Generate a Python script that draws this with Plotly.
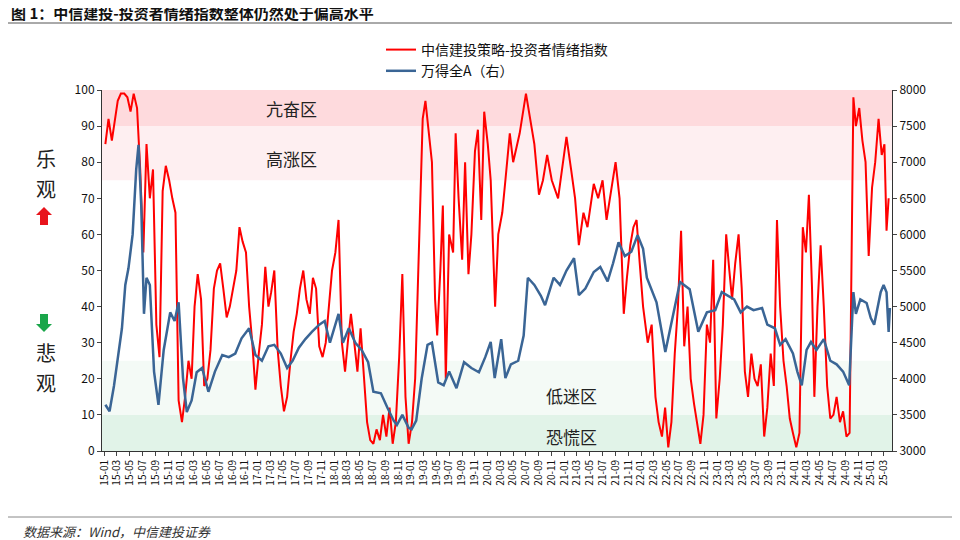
import plotly.graph_objects as go

# ---------- DATA ----------
red_dates = [
    "2015-01-05", "2015-01-20", "2015-02-05", "2015-02-20", "2015-03-05", "2015-03-20", "2015-04-05", "2015-04-20",
    "2015-05-05", "2015-05-20", "2015-06-05", "2015-06-20", "2015-07-05", "2015-07-20", "2015-08-05", "2015-08-20",
    "2015-09-05", "2015-09-20", "2015-10-05", "2015-10-20", "2015-11-05", "2015-11-20", "2015-12-05", "2015-12-20",
    "2016-01-05", "2016-01-20", "2016-02-05", "2016-02-20", "2016-03-05", "2016-03-20", "2016-04-05", "2016-04-20",
    "2016-05-05", "2016-05-20", "2016-06-05", "2016-06-20", "2016-07-05", "2016-07-20", "2016-08-05", "2016-08-20",
    "2016-09-05", "2016-09-20", "2016-10-05", "2016-10-20", "2016-11-05", "2016-11-20", "2016-12-05", "2016-12-20",
    "2017-01-05", "2017-01-20", "2017-02-05", "2017-02-20", "2017-03-05", "2017-03-20", "2017-04-05", "2017-04-20",
    "2017-05-05", "2017-05-20", "2017-06-05", "2017-06-20", "2017-07-05", "2017-07-20", "2017-08-05", "2017-08-20",
    "2017-09-05", "2017-09-20", "2017-10-05", "2017-10-20", "2017-11-05", "2017-11-20", "2017-12-05", "2017-12-20",
    "2018-01-05", "2018-01-20", "2018-02-05", "2018-02-20", "2018-03-05", "2018-03-20", "2018-04-05", "2018-04-20",
    "2018-05-05", "2018-05-20", "2018-06-05", "2018-06-20", "2018-07-05", "2018-07-20", "2018-08-05", "2018-08-20",
    "2018-09-05", "2018-09-20", "2018-10-05", "2018-10-20", "2018-11-05", "2018-11-20", "2018-12-05", "2018-12-20",
    "2019-01-05", "2019-01-20", "2019-02-10", "2019-02-25", "2019-03-10", "2019-03-25", "2019-04-10", "2019-04-25",
    "2019-05-05", "2019-05-20", "2019-06-01", "2019-06-15", "2019-07-01", "2019-07-20", "2019-08-01", "2019-08-15",
    "2019-09-01", "2019-09-15", "2019-10-01", "2019-10-15", "2019-11-01", "2019-11-15", "2019-12-01", "2019-12-15",
    "2020-01-01", "2020-01-15", "2020-02-05", "2020-02-20", "2020-03-10", "2020-03-25", "2020-04-15", "2020-05-01",
    "2020-06-01", "2020-07-01", "2020-07-20", "2020-08-10", "2020-09-01", "2020-09-20", "2020-10-10", "2020-11-01",
    "2020-12-01", "2020-12-20",
    "2021-01-10", "2021-02-01", "2021-02-20", "2021-03-10", "2021-04-01", "2021-04-20", "2021-05-20", "2021-06-10",
    "2021-07-01", "2021-07-20", "2021-08-10", "2021-09-01", "2021-09-20", "2021-10-10", "2021-10-25", "2021-11-10",
    "2021-11-25", "2021-12-10", "2021-12-25",
    "2022-01-10", "2022-02-01", "2022-02-20", "2022-03-10", "2022-03-25", "2022-04-10", "2022-04-25", "2022-05-10",
    "2022-05-25", "2022-06-10", "2022-06-25", "2022-07-10", "2022-07-25", "2022-08-10", "2022-08-25", "2022-09-10",
    "2022-09-25", "2022-10-10", "2022-10-25", "2022-11-10", "2022-11-25", "2022-12-10", "2022-12-25",
    "2023-01-10", "2023-01-25", "2023-02-10", "2023-02-25", "2023-03-10", "2023-03-25", "2023-04-10", "2023-04-25",
    "2023-05-10", "2023-05-25", "2023-06-10", "2023-06-25", "2023-07-10", "2023-07-25", "2023-08-10", "2023-08-25",
    "2023-09-10", "2023-09-25", "2023-10-10", "2023-10-25", "2023-11-10", "2023-11-25", "2023-12-10", "2023-12-25",
    "2024-01-10", "2024-01-25", "2024-02-10", "2024-02-25", "2024-03-10", "2024-03-25", "2024-04-05", "2024-04-20",
    "2024-05-05", "2024-05-20", "2024-06-05", "2024-06-20", "2024-07-05", "2024-07-20", "2024-08-05", "2024-08-20",
    "2024-09-05", "2024-09-20", "2024-09-28", "2024-10-08", "2024-10-20", "2024-11-05", "2024-11-20", "2024-12-05",
    "2024-12-20",
    "2025-01-05", "2025-01-20", "2025-02-05", "2025-02-20", "2025-03-05", "2025-03-15", "2025-03-25",
]
red_vals = [
    85, 92, 86, 92, 97, 99, 99, 98, 94, 99, 95, 78, 55, 85, 70, 78, 35, 26, 72, 79, 75, 70, 66, 14,
    8, 15, 25, 20, 40, 49, 42, 18, 20, 28, 45, 50, 52, 45, 37, 40, 45, 50, 62, 58, 55, 40, 30, 17,
    27, 35, 51, 40, 44, 50, 28, 18, 11, 15, 25, 33, 38, 45, 50, 42, 38, 48, 45, 29, 26, 30, 40, 50,
    55, 64, 30, 22, 30, 38, 30, 22, 34, 20, 8, 3, 2, 6, 3, 10, 4, 12, 2, 8, 26, 49, 15, 2,
    8, 20, 60, 92, 97, 88, 80, 42, 32, 50, 68, 20, 60, 55, 88, 70, 53, 80, 49, 60, 83, 89, 64, 94,
    85, 75, 40, 60, 66, 75, 88, 80, 88, 99, 92, 85, 71, 75, 82, 75, 70, 78,
    87, 78, 70, 57, 66, 62, 74, 70, 75, 64, 72, 80, 70, 38, 48, 57, 62, 64, 52,
    40, 30, 35, 15, 8, 4, 12, 1, 8, 27, 40, 61, 29, 40, 20, 13, 8, 2, 10, 35, 30, 53, 9,
    20, 35, 60, 50, 42, 52, 60, 45, 22, 15, 27, 20, 18, 24, 4, 12, 27, 18, 64, 40, 25, 18, 9, 5,
    1, 5, 62, 55, 71, 45, 15, 40, 57, 40, 18, 9, 10, 15, 8, 11, 4, 5, 40, 98, 90, 95, 86, 80, 54,
    73, 80, 92, 82, 85, 61, 70,
]

blue_dates = [
    "2015-01-05", "2015-01-25", "2015-02-15", "2015-03-10", "2015-03-25", "2015-04-10", "2015-04-25", "2015-05-15",
    "2015-06-01", "2015-06-12", "2015-06-25", "2015-07-08", "2015-07-20", "2015-08-05", "2015-08-25", "2015-09-15",
    "2015-10-10", "2015-11-10", "2015-12-01", "2015-12-20",
    "2016-01-10", "2016-01-28", "2016-02-20", "2016-03-15", "2016-04-10", "2016-05-10", "2016-06-10", "2016-07-15",
    "2016-08-15", "2016-09-15", "2016-10-15", "2016-11-20", "2016-12-20",
    "2017-01-20", "2017-02-20", "2017-03-20", "2017-04-20", "2017-05-20", "2017-06-15", "2017-07-15", "2017-08-15",
    "2017-09-15", "2017-10-20", "2017-11-15", "2017-12-10",
    "2018-01-20", "2018-02-10", "2018-03-10", "2018-04-10", "2018-05-10", "2018-06-10", "2018-07-05", "2018-08-10",
    "2018-09-10", "2018-10-10", "2018-10-25", "2018-11-20", "2018-12-20",
    "2019-01-03", "2019-01-25", "2019-02-20", "2019-03-20", "2019-04-10", "2019-05-10", "2019-06-05", "2019-07-01",
    "2019-08-05", "2019-09-10", "2019-10-15", "2019-11-20", "2019-12-20",
    "2020-01-15", "2020-02-03", "2020-03-05", "2020-03-25", "2020-04-20", "2020-05-25", "2020-06-20", "2020-07-10",
    "2020-08-10", "2020-09-10", "2020-09-30", "2020-11-10", "2020-12-10",
    "2021-01-10", "2021-02-15", "2021-03-10", "2021-04-10", "2021-05-20", "2021-06-20", "2021-07-25", "2021-08-20",
    "2021-09-15", "2021-10-15", "2021-11-15", "2021-12-15",
    "2022-01-10", "2022-01-28", "2022-03-15", "2022-04-26", "2022-05-20", "2022-07-05", "2022-08-20", "2022-09-30",
    "2022-11-10", "2022-12-20",
    "2023-01-20", "2023-02-20", "2023-03-20", "2023-04-20", "2023-05-20", "2023-06-20", "2023-07-31", "2023-08-25",
    "2023-09-30", "2023-10-25", "2023-11-20", "2023-12-25",
    "2024-01-15", "2024-02-05", "2024-02-28", "2024-03-20", "2024-04-15", "2024-05-20", "2024-06-20", "2024-07-20",
    "2024-08-20", "2024-09-18", "2024-09-30", "2024-10-08", "2024-10-20", "2024-11-10", "2024-12-10", "2024-12-30",
    "2025-01-15", "2025-02-15", "2025-03-01", "2025-03-15", "2025-03-25", "2025-03-31",
]
blue_vals = [
    3640, 3550, 3900, 4370, 4700, 5300, 5530, 6000, 6900, 7240, 6400, 4900, 5400, 5300, 4100, 3640,
    4400, 4920, 4800, 5060,
    4010, 3540, 3700, 4090, 4150, 3820, 4100, 4330, 4300, 4350, 4560, 4700, 4330,
    4250, 4450, 4470, 4350, 4150, 4250, 4430, 4550, 4650, 4750, 4800, 4500,
    4900, 4500, 4700, 4500, 4400, 4230, 3820, 3800, 3600, 3420, 3360, 3500, 3320,
    3300, 3420, 4000, 4470, 4500, 3950, 3910, 4100, 3870, 4230, 4150, 4090, 4300,
    4510, 4010, 4550, 4010, 4200, 4250, 4600, 5400, 5300, 5150, 5020, 5400, 5300,
    5500, 5670, 5160, 5250, 5480, 5550, 5350, 5600, 5890, 5700, 5760, 5990,
    5800, 5400, 5060, 4370, 4700, 5340, 5240, 4650, 4920, 4950,
    5200, 5150, 5100, 4920, 5000, 4950, 4980, 4750, 4700, 4470, 4550, 4350,
    4100, 3910, 4400, 4510, 4400, 4550, 4250, 4200, 4100, 3910, 4700, 5200, 4900, 5100, 5050, 4840,
    4750, 5200, 5300, 5200, 4650, 4980,
]

zones = [(90, 100, "rgba(253,205,210,0.75)"), (75, 90, "rgba(254,228,231,0.6)"),
         (10, 25, "rgba(236,246,240,0.6)"), (0, 10, "rgba(218,240,226,0.8)")]
zone_labels = [("亢奋区", 95), ("高涨区", 81), ("低迷区", 15.5), ("恐慌区", 4)]

FONT = "Noto Sans CJK SC"
RED = "#ff0000"
BLUE = "#3a6595"
L, R, T, B = 94, 76, 82, 97
OX, OY = 7, 8  # page offset of the plot in the screenshot


def py(pix):
    # target pixel row in the screenshot -> paper y
    return (540 - B - (pix - OY)) / (540 - T - B)


def px(pix):
    return (pix - OX - L) / (960 - L - R)


fig = go.Figure()
fig.add_trace(go.Scatter(x=red_dates, y=red_vals, name="中信建投策略-投资者情绪指数",
                         mode="lines", line=dict(color=RED, width=2)))
fig.add_trace(go.Scatter(x=blue_dates, y=blue_vals, name="万得全A（右）", yaxis="y2",
                         mode="lines", line=dict(color=BLUE, width=2.5)))

for lo, hi, col in zones:
    fig.add_shape(type="rect", xref="paper", yref="y", x0=0, x1=1, y0=lo, y1=hi,
                  fillcolor=col, line_width=0, layer="below")
for txt, yv in zone_labels:
    x = px(290) if yv > 50 else px(570)
    fig.add_annotation(text=txt, x=x, xref="paper", y=yv, yref="y", showarrow=False,
                       xanchor="center", yanchor="middle",
                       font=dict(size=17, color="#222", family=FONT))

# side labels and arrows
for txt, row in [("乐", 158), ("观", 188), ("悲", 352), ("观", 382)]:
    fig.add_annotation(text=txt, x=px(45), xref="paper", y=py(row), yref="paper",
                       xanchor="center", yanchor="middle", showarrow=False,
                       font=dict(size=20, color="#222", family=FONT))
fig.add_shape(type="path", xref="paper", yref="paper",
              path=f"M {px(43)},{py(207)} L {px(51)},{py(215)} L {px(47)},{py(215)} L {px(47)},{py(225)} "
                   f"L {px(39)},{py(225)} L {px(39)},{py(215)} L {px(35)},{py(215)} Z",
              fillcolor="#e8141c", line_width=0)
fig.add_shape(type="path", xref="paper", yref="paper",
              path=f"M {px(43)},{py(332)} L {px(51)},{py(324)} L {px(47)},{py(324)} L {px(47)},{py(314)} "
                   f"L {px(39)},{py(314)} L {px(39)},{py(324)} L {px(35)},{py(324)} Z",
              fillcolor="#1aa64a", line_width=0)

# title, rules, source
fig.add_annotation(text="<b>图 1：中信建投-投资者情绪指数整体仍然处于偏高水平</b>", x=px(8), xref="paper",
                   y=py(12), yref="paper", xanchor="left", yanchor="middle", showarrow=False,
                   font=dict(size=15, color="#111", family=FONT))
fig.add_shape(type="line", xref="paper", yref="paper", x0=px(6), x1=px(954), y0=py(23), y1=py(23),
              line=dict(color="#555", width=1))
fig.add_shape(type="line", xref="paper", yref="paper", x0=px(6), x1=px(954), y0=py(517), y1=py(517),
              line=dict(color="#888", width=1))
fig.add_annotation(text="<i>数据来源：Wind，中信建投证券</i>", x=px(20), xref="paper", y=py(531), yref="paper",
                   xanchor="left", yanchor="middle", showarrow=False,
                   font=dict(size=13, color="#333", family=FONT))

fig.update_layout(
    width=960, height=540, plot_bgcolor="white", paper_bgcolor="white",
    margin=dict(l=L, r=R, t=T, b=B),
    font=dict(family=FONT, size=12, color="#111"),
    legend=dict(x=0.5, xanchor="center", y=py(34), yanchor="top", bgcolor="rgba(0,0,0,0)",
                font=dict(size=14), tracegroupgap=0),
    xaxis=dict(type="date", range=["2014-12-20", "2025-04-10"], tick0="2015-01-01", dtick="M2",
               tickformat="%y-%m", tickangle=-90, ticks="outside", ticklen=4,
               showgrid=False, showline=True, linecolor="#333", tickfont=dict(size=10)),
    yaxis=dict(range=[0, 100], dtick=10, showgrid=False, showline=True, linecolor="#333",
               ticks="outside", ticklen=4, tickfont=dict(size=12)),
    yaxis2=dict(range=[3000, 8000], dtick=500, overlaying="y", side="right", showgrid=False,
                showline=True, linecolor="#333", ticks="outside", ticklen=4, tickfont=dict(size=12)),
)

fig.write_html("out.html")
